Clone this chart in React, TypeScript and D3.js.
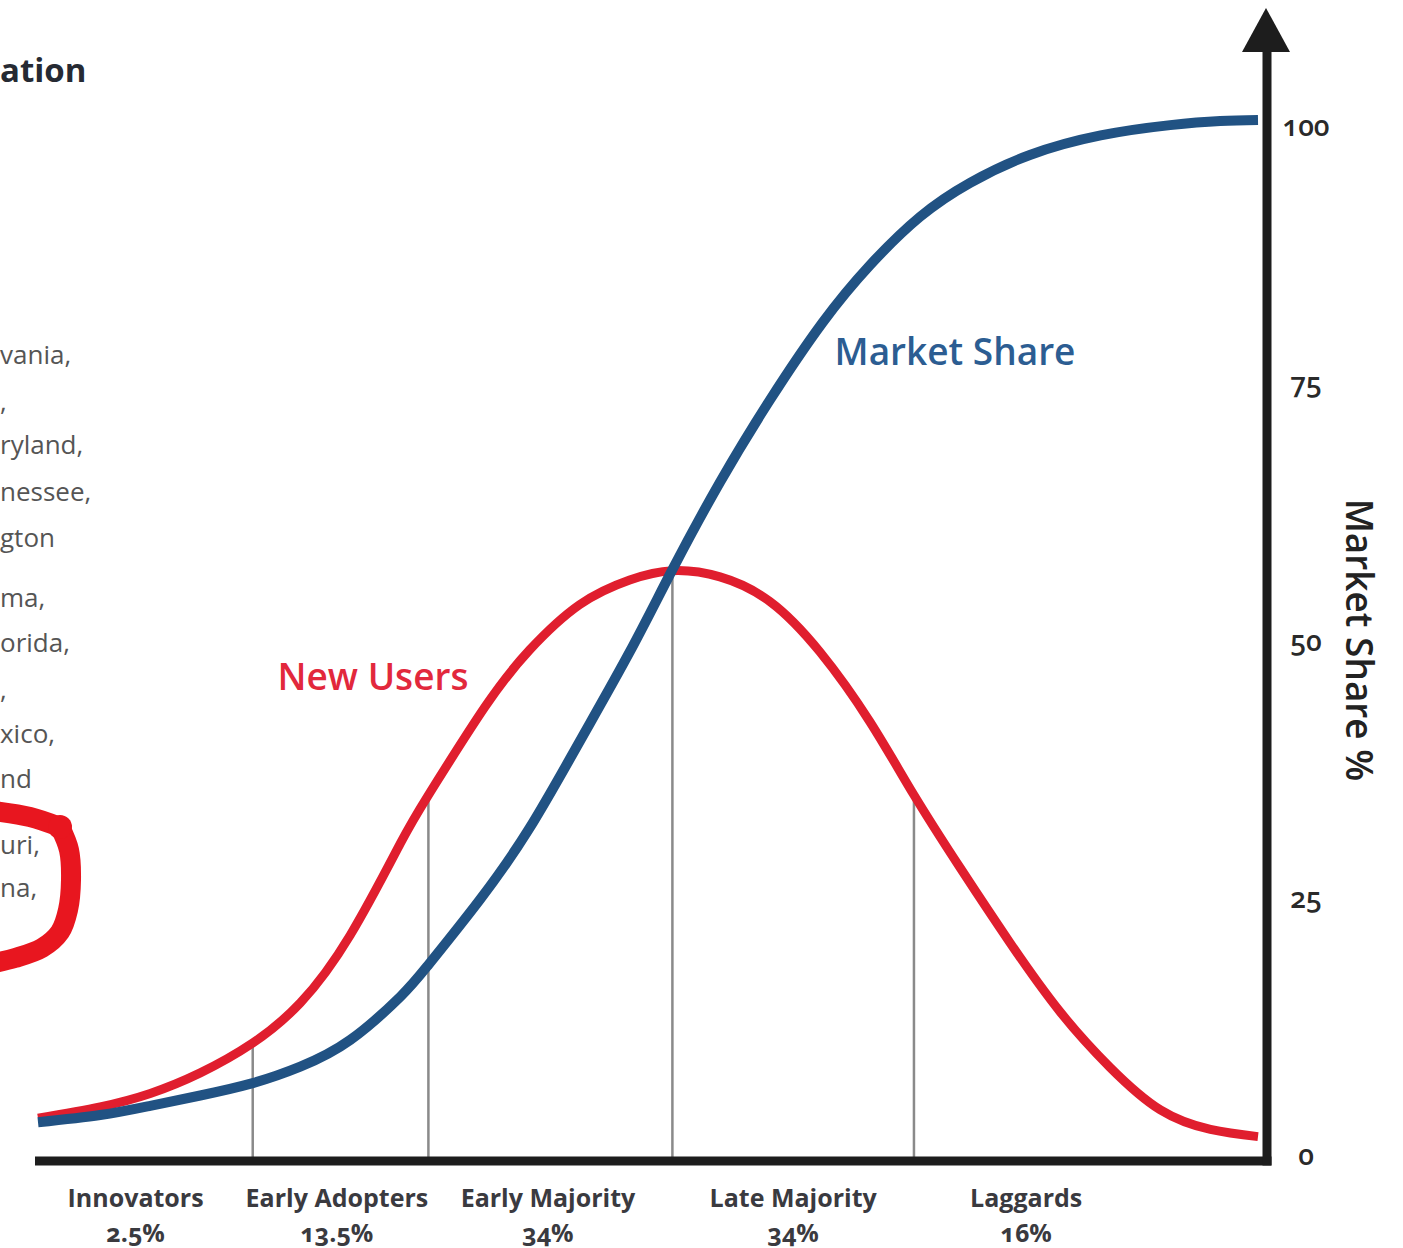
import React from 'react';
import * as d3 from 'd3';

const WIDTH = 1403;
const HEIGHT = 1248;

// Adoption time runs 0–100 along the horizontal axis; values are percent.
const newUsersTime = [0, 5.1, 9.2, 13.3, 17.6, 21.5, 25.6, 29.7, 32, 36.6, 40.3, 44.4, 48.5, 52, 55.9, 60, 64.1, 68.2, 71.8, 75.6, 79.7, 83.8, 87.9, 92, 96.1, 100];
const newUsersPct = [3, 4.1, 5.4, 7.4, 10.3, 14.2, 20.8, 29.7, 34.4, 42.9, 48.5, 52.9, 55.3, 56.2, 55.6, 53.2, 48.3, 41.5, 34.4, 27.3, 20, 13.3, 7.9, 3.8, 1.9, 1.2];

const marketShareTime = [0, 5.1, 9.2, 13.3, 17.6, 21.5, 25.6, 29.7, 32, 36.2, 40.3, 44.4, 48.5, 52, 55.9, 60, 64.3, 68.2, 72.3, 76.4, 81.3, 87.1, 92.8, 96.9, 100];
const marketSharePct = [2.6, 3.3, 4.2, 5.2, 6.4, 8, 10.6, 14.8, 17.9, 24.2, 31.2, 39.6, 48.3, 56.3, 64.8, 72.8, 80.3, 85.9, 90.6, 93.9, 96.6, 98.5, 99.5, 99.9, 100];

// Boundaries between adopter groups
const groupBoundaries = [17.6, 32, 52, 71.8];

const groupNames = ['Innovators', 'Early Adopters', 'Early Majority', 'Late Majority', 'Laggards'];
const groupShares = ['2.5%', '13.5%', '34%', '34%', '16%'];
const groupLabelTime = [8, 24.5, 41.8, 61.9, 81];

const yTicks = [0, 25, 50, 75, 100];

// Fragments of the neighbouring text column
const sideTitle = 'ation';
const sideLines = ['vania,', ',', 'ryland,', 'nessee,', 'gton', 'ma,', 'orida,', ',', 'xico,', 'nd', 'uri,', 'na,'];
const sideLineY = [355, 402, 445, 492, 538, 598, 643, 690, 734, 779, 845, 888];

// Hand-drawn red marker stroke over the text column
const markerTop: [number, number][] = [[-6, 811], [30, 817], [60, 827]];
const markerSide: [number, number][] = [[60, 827], [69, 850], [71, 880], [68, 910], [60, 932], [42, 948], [15, 958], [-6, 963]];

const RED = '#e01e2e';
const BLUE = '#215283';
const AXIS = '#1d1d1d';

export default function App() {
  const x = d3.scaleLinear().domain([0, 100]).range([38, 1258]);
  const y = d3.scaleLinear().domain([0, 100]).range([1149, 120]);

  const line = d3
    .line<[number, number]>()
    .x((d) => x(d[0]))
    .y((d) => y(d[1]))
    .curve(d3.curveNatural);

  const redPts = newUsersTime.map((t, i) => [t, newUsersPct[i]] as [number, number]);
  const bluePts = marketShareTime.map((t, i) => [t, marketSharePct[i]] as [number, number]);

  const redAt = (t: number) => {
    const i = d3.bisectLeft(newUsersTime, t);
    if (newUsersTime[i] === t) return newUsersPct[i];
    const t0 = newUsersTime[i - 1], t1 = newUsersTime[i];
    return d3.interpolateNumber(newUsersPct[i - 1], newUsersPct[i])((t - t0) / (t1 - t0));
  };

  const marker = d3.line<[number, number]>().curve(d3.curveCatmullRom.alpha(0.5));

  // baseline sits a little below the zero level
  const axisY = y(0) + 12;
  const axisX = 1267;

  const font = "'Open Sans', 'Noto Sans', sans-serif";

  return (
    <div style={{ position: 'absolute', left: 0, top: 0 }}>
      <svg width={WIDTH} height={HEIGHT} style={{ display: 'block', background: '#fff' }} fontFamily={font}>
        {/* side text column */}
        <text x={0} y={82} fontSize={33} fontWeight={700} fill="#262a33">{sideTitle}</text>
        {sideLines.map((s, i) => (
          <text key={i} x={0} y={sideLineY[i] + 9} fontSize={26} fill="#555">
            {s}
          </text>
        ))}
        <path d={marker(markerTop) || ''} fill="none" stroke="#e8161f" strokeWidth={20} strokeLinecap="round" />
        <path d={marker(markerSide) || ''} fill="none" stroke="#e8161f" strokeWidth={20} strokeLinecap="round" />
        <circle cx={60} cy={827} r={12} fill="#e8161f" />

        {/* group boundaries */}
        {groupBoundaries.map((t, i) => (
          <line key={i} x1={x(t)} x2={x(t)} y1={axisY} y2={y(redAt(t))} stroke="#8a8a8a" strokeWidth={2.5} />
        ))}

        {/* curves */}
        <path d={line(redPts) || ''} fill="none" stroke={RED} strokeWidth={9} />
        <path d={line(bluePts) || ''} fill="none" stroke={BLUE} strokeWidth={10} />

        {/* axes */}
        <line x1={35} x2={axisX + 4.5} y1={axisY} y2={axisY} stroke={AXIS} strokeWidth={9} />
        <line x1={axisX} x2={axisX} y1={50} y2={axisY + 4.5} stroke={AXIS} strokeWidth={9} />
        <path d={`M${axisX - 1},8 L${axisX + 23},52 L${axisX - 25},52 Z`} fill={AXIS} />

        {yTicks.map((v) => (
          <text
            key={v}
            x={1306}
            y={y(v) + 16}
            textAnchor="middle"
            fontSize={28}
            fontWeight={600}
            fill="#2a2a2a"
            style={{ fontVariantNumeric: 'oldstyle-nums' }}
          >
            {v}
          </text>
        ))}

        <text
          transform={`translate(1360,640) rotate(90)`}
          textAnchor="middle"
          dominantBaseline="central"
          fontSize={37}
          fontWeight={600}
          fill="#222"
        >
          Market Share %
        </text>

        {/* curve labels */}
        <text x={373} y={690} textAnchor="middle" fontSize={37} fontWeight={600} fill="#e2283c">New Users</text>
        <text x={955} y={365} textAnchor="middle" fontSize={37} fontWeight={600} fill="#2c5d92">Market Share</text>

        {/* group labels */}
        {groupNames.map((n, i) => (
          <g key={n} fill="#3a3a3f" fontWeight={700} fontSize={25} textAnchor="middle">
            <text x={x(groupLabelTime[i])} y={1207}>{n}</text>
            <text x={x(groupLabelTime[i])} y={1242} style={{ fontVariantNumeric: 'oldstyle-nums' }}>{groupShares[i]}</text>
          </g>
        ))}
      </svg>
    </div>
  );
}
